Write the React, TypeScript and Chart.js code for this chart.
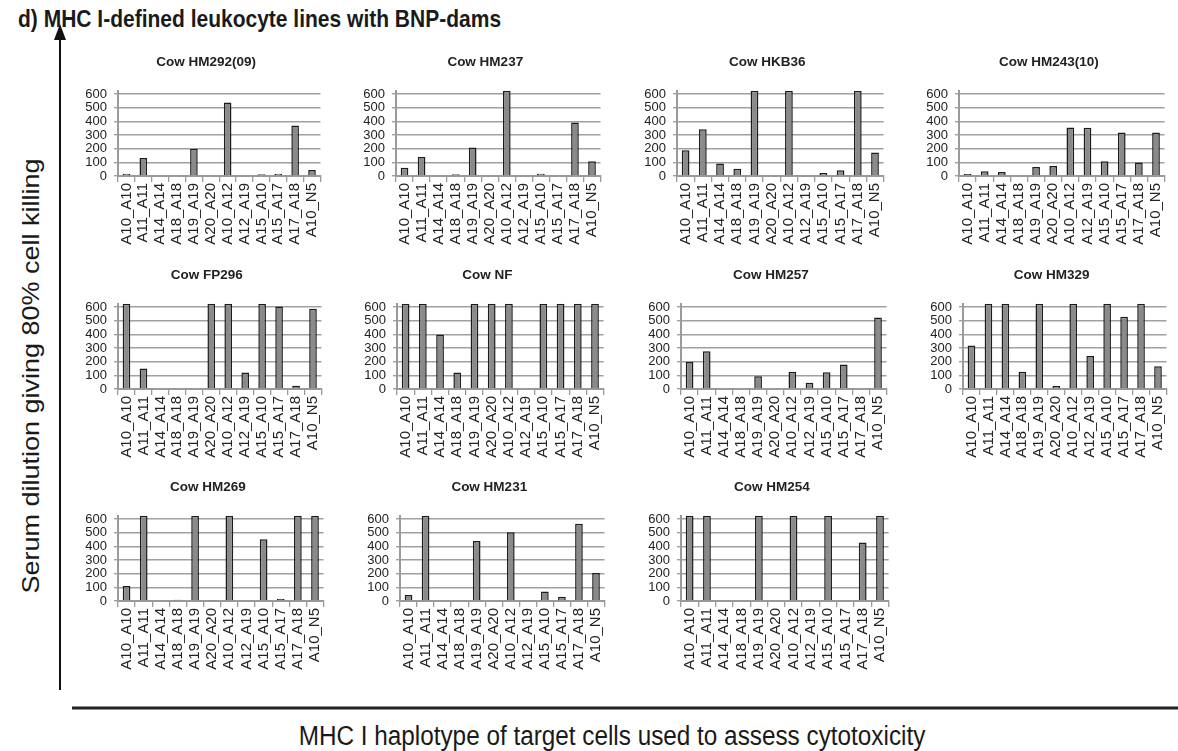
import React, { useEffect, useRef } from 'react';
import { Chart, registerables } from 'chart.js';

Chart.register(...registerables);

// ---------- data ----------
const categories = [
  'A10_A10', 'A11_A11', 'A14_A14', 'A18_A18', 'A19_A19', 'A20_A20',
  'A10_A12', 'A12_A19', 'A15_A10', 'A15_A17', 'A17_A18', 'A10_N5',
];

// bars reaching the top of the axis (>= 600 dilution)
const SAT = 625;
const yTicks = [0, 100, 200, 300, 400, 500, 600];

const cowHM292 = [17, 132, 5, 0, 199, 0, 539, 0, 12, 17, 370, 44];
const cowHM237 = [61, 140, 0, 12, 208, 5, SAT, 0, 17, 0, 392, 108];
const cowHKB36 = [189, 343, 91, 54, SAT, 0, SAT, 0, 22, 42, SAT, 172];
const cowHM243 = [15, 34, 29, 0, 66, 74, 355, 353, 108, 319, 98, 319];
const cowFP296 = [SAT, 150, 0, 0, 0, SAT, SAT, 121, SAT, 605, 24, 588];
const cowNF = [SAT, SAT, 399, 121, SAT, SAT, SAT, 0, SAT, SAT, SAT, SAT];
const cowHM257 = [198, 276, 0, 0, 94, 0, 126, 46, 123, 179, 0, 523];
const cowHM329 = [319, SAT, SAT, 126, SAT, 22, SAT, 242, SAT, 530, SAT, 167];
const cowHM269 = [109, SAT, 0, 10, SAT, 7, SAT, 0, 452, 15, SAT, SAT];
const cowHM231 = [44, SAT, 0, 0, 440, 0, 503, 0, 70, 31, 566, 206];
const cowHM254 = [SAT, SAT, 0, 0, SAT, 0, SAT, 0, SAT, 0, 428, SAT];

const panelTitles = [
  'Cow HM292(09)', 'Cow HM237', 'Cow HKB36', 'Cow HM243(10)',
  'Cow FP296', 'Cow NF', 'Cow HM257', 'Cow HM329',
  'Cow HM269', 'Cow HM231', 'Cow HM254',
];
const panelValues = [
  cowHM292, cowHM237, cowHKB36, cowHM243,
  cowFP296, cowNF, cowHM257, cowHM329,
  cowHM269, cowHM231, cowHM254,
];

const mainTitle = 'd) MHC I-defined leukocyte lines with BNP-dams';
const yAxisTitle = 'Serum dilution giving 80% cell killing';
const xAxisTitle = 'MHC I haplotype of target cells used to assess cytotoxicity';

// ---------- layout ----------
const FONT = "'Liberation Sans', Arial, Helvetica, sans-serif";
const Y_W = 36; // width of the y scale box
const X_H = 75; // height reserved for the x tick labels
const TOP_SPACE = 36.7; // room above the plot for the panel title
const CANVAS_H = 197;
const panelLayout = [
  { axisX: 118, top: 54, plotW: 213 },
  { axisX: 396, top: 54, plotW: 215 },
  { axisX: 677, top: 54, plotW: 217 },
  { axisX: 959, top: 54, plotW: 216 },
  { axisX: 118, top: 267, plotW: 214 },
  { axisX: 397, top: 267, plotW: 217 },
  { axisX: 681, top: 267, plotW: 216 },
  { axisX: 963, top: 267, plotW: 214 },
  { axisX: 118, top: 479, plotW: 216 },
  { axisX: 400, top: 479, plotW: 215 },
  { axisX: 681, top: 479, plotW: 218 },
];

// draws the panel title a little left of the plot centre, like the original
const panelTitlePlugin = {
  id: 'panelTitle',
  afterDraw(chart: any, _args: any, opts: any) {
    const { ctx, chartArea } = chart;
    ctx.save();
    ctx.font = `bold 13.5px ${FONT}`;
    ctx.fillStyle = '#222';
    ctx.textAlign = 'center';
    ctx.textBaseline = 'middle';
    ctx.fillText(opts.text, (chartArea.left + chartArea.right) / 2 - 13, chartArea.top - 28.6);
    ctx.restore();
  },
};

function Panel({ title, values, axisX, top, plotW }: { title: string; values: number[]; axisX: number; top: number; plotW: number }) {
  const ref = useRef<HTMLCanvasElement | null>(null);
  useEffect(() => {
    if (!ref.current) return;
    const chart = new Chart(ref.current, {
      type: 'bar',
      data: {
        labels: categories,
        datasets: [
          {
            data: values,
            backgroundColor: '#8a8a8a',
            borderColor: '#1c1c1c',
            borderWidth: 1.5,
            barPercentage: 0.45,
            categoryPercentage: 1,
          },
        ],
      },
      plugins: [panelTitlePlugin],
      options: {
        responsive: false,
        animation: false,
        layout: { padding: { left: 0, right: 0, top: TOP_SPACE, bottom: 0 } },
        plugins: {
          legend: { display: false },
          tooltip: { enabled: false },
          title: { display: false },
          panelTitle: { text: title },
        },
        scales: {
          x: {
            grid: {
              drawOnChartArea: false,
              drawTicks: true,
              tickLength: 6,
              color: '#9a9a9a',
              lineWidth: 1.3,
              offset: true,
            },
            border: { color: '#9a9a9a', width: 2 },
            ticks: {
              autoSkip: false,
              minRotation: 90,
              maxRotation: 90,
              padding: 1,
              color: '#222',
              font: { family: FONT, size: 15 },
            },
            afterFit: (s: any) => {
              s.height = X_H;
            },
          },
          y: {
            min: 0,
            max: SAT,
            grid: { color: '#a0a0a0', lineWidth: 1.4, tickLength: 4 },
            border: { color: '#9a9a9a', width: 2 },
            ticks: {
              autoSkip: false,
              stepSize: 100,
              padding: 7,
              color: '#222',
              font: { family: FONT, size: 13 },
            },
            afterBuildTicks: (s: any) => {
              s.ticks = yTicks.map((v) => ({ value: v }));
            },
            afterFit: (s: any) => {
              s.width = Y_W;
            },
          },
        },
      },
    } as any);
    return () => chart.destroy();
  }, [title, values]);
  const w = Y_W + plotW;
  return (
    <canvas
      ref={ref}
      width={w}
      height={CANVAS_H}
      style={{ position: 'absolute', left: axisX - Y_W, top, width: w, height: CANVAS_H }}
    />
  );
}

export default function App() {
  return (
    <div
      style={{
        position: 'absolute',
        left: 0,
        top: 0,
        width: 1178,
        height: 751,
        background: '#fff',
        overflow: 'hidden',
        fontFamily: FONT,
        color: '#1a1a1a',
      }}
    >
      <div
        style={{
          position: 'absolute',
          left: 18,
          top: 5,
          fontSize: 24,
          lineHeight: '28px',
          fontWeight: 'bold',
          whiteSpace: 'nowrap',
          transform: 'scaleX(0.875)',
          transformOrigin: '0 0',
        }}
      >
        {mainTitle}
      </div>
      <svg width={1178} height={751} style={{ position: 'absolute', left: 0, top: 0 }}>
        <line x1={60} y1={690} x2={60} y2={36} stroke="#111" strokeWidth={2} />
        <polygon points="54,40 66,40 60,24" fill="#111" />
        <line x1={72} y1={708} x2={1178} y2={708} stroke="#222" strokeWidth={3} />
      </svg>
      <div
        style={{
          position: 'absolute',
          left: 31,
          top: 376,
          transform: 'translate(-50%, -50%) scaleX(0.9) rotate(-90deg)',
          fontSize: 27,
          lineHeight: '30px',
          whiteSpace: 'nowrap',
        }}
      >
        {yAxisTitle}
      </div>
      <div
        style={{
          position: 'absolute',
          left: 612,
          top: 736,
          transform: 'translate(-50%, -50%) scaleX(0.9)',
          fontSize: 27,
          lineHeight: '30px',
          whiteSpace: 'nowrap',
        }}
      >
        {xAxisTitle}
      </div>
      {panelTitles.map((t, i) => (
        <Panel key={t} title={t} values={panelValues[i]} {...panelLayout[i]} />
      ))}
    </div>
  );
}
